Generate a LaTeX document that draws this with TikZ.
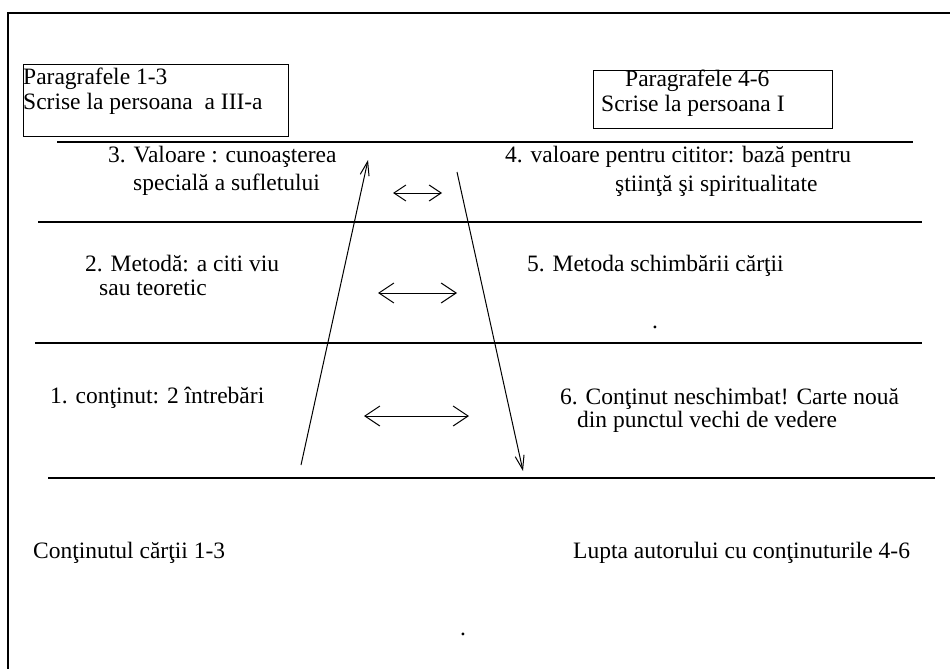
\documentclass[tikz,border=0pt]{standalone}
\usepackage{fontspec}
\setmainfont{Liberation Serif}
\usetikzlibrary{arrows.meta,positioning}

\begin{document}
\begin{tikzpicture}[x=1pt,y=-1pt,
    lbl/.style={anchor=mid west,inner sep=0pt,font=\fontsize{23.5}{28}\selectfont},
    headbox/.style={draw,line width=1.3pt,inner sep=0pt,anchor=north west},
    rule/.style={line width=1.6pt},
    flow/.style={line width=1pt,-{Straight Barb[length=14pt,width=9pt]}},
    pair/.style={line width=1pt,{Straight Barb[length=15pt,width=20pt]}-{Straight Barb[length=15pt,width=20pt]}}]
  \useasboundingbox (0,0) rectangle (950,669);
  % frame
  \draw[line width=1.5pt] (8,669) -- (8,13) -- (950,13);

  % header boxes
  \node[headbox,minimum width=265,minimum height=72] (box13) at (23,64) {};
  \node[headbox,minimum width=239,minimum height=58] (box46) at (593,70) {};
  \node[lbl] (par13) at (23,82) {Paragrafele 1-3};
  \node[lbl] (pers13) at (23,107) {Scrise la persoana\ \ a III-a};
  \node[lbl] (par46) at (625,84) {Paragrafele 4-6};
  \node[lbl] (pers46) at (601,109) {Scrise la persoana I};

  % levels
  \draw[rule] (57,142) -- (913,142);
  \draw[rule] (38,222) -- (922,222);
  \draw[rule] (35,343) -- (922,343);
  \draw[rule] (48,478) -- (935,478);

  \node[lbl] (val3a) at (108,160) {3. Valoare : cunoaşterea};
  \node[lbl] (val3b) at (133,188) {specială a sufletului};
  \node[lbl] (val4a) at (505,160) {4. valoare pentru cititor: bază pentru};
  \node[lbl] (val4b) at (615,189) {ştiinţă şi spiritualitate};
  \node[lbl] (met2a) at (85,269) {2. Metodă: a citi viu};
  \node[lbl] (met2b) at (99,293) {sau teoretic};
  \node[lbl] (met5) at (527,269) {5. Metoda schimbării cărţii};
  \node[lbl] (con1) at (50,401) {1. conţinut: 2 întrebări};
  \node[lbl] (con6a) at (560,402) {6. Conţinut neschimbat! Carte nouă};
  \node[lbl] (con6b) at (577,425) {din punctul vechi de vedere};
  \node[lbl] (foot13) at (33,556) {Conţinutul cărţii 1-3};
  \node[lbl] (foot46) at (573,556) {Lupta autorului cu conţinuturile 4-6};
  \node[lbl] (specA) at (652,326) {.};
  \node[lbl] (specB) at (460,633) {.};

  % slanted arrows
  \coordinate (upS) at (301,465);
  \coordinate (upE) at (368,160);
  \coordinate (dnS) at (457,172);
  \coordinate (dnE) at (523,471);
  \draw[flow] (upS) -- (upE);
  \draw[flow] (dnS) -- (dnE);

  % double arrows
  \coordinate (p3L) at (393,193);
  \coordinate (p3R) at (442,193);
  \coordinate (p2L) at (378,293);
  \coordinate (p2R) at (457,293);
  \coordinate (p1L) at (364,416);
  \coordinate (p1R) at (469,416);
  \draw[pair,{Straight Barb[length=12pt,width=16pt]}-{Straight Barb[length=12pt,width=16pt]}] (p3L) -- (p3R);
  \draw[pair] (p2L) -- (p2R);
  \draw[pair] (p1L) -- (p1R);
\end{tikzpicture}
\end{document}
